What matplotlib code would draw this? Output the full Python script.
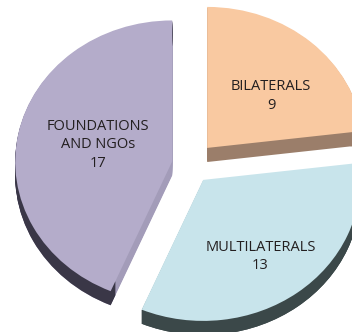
import numpy as np
import matplotlib.pyplot as plt

# number of partners by type
categories = ['BILATERALS', 'MULTILATERALS', 'FOUNDATIONS\nAND NGOs']
counts = [9, 13, 17]

top_colors = ['#f9c9a1', '#c8e4eb', '#b4acca']
side_colors = ['#9b7e6a', '#3b4849', '#a39cb9']   # flat cut faces
rim_colors = ['#9b7e6a', '#3b4849', '#3a3747']    # curved outer faces
explode = [0.16, 0.134, 0.119]
label_r = [0.562, 0.64, 0.493]
label_turn = [-5.0, -2.2, -4.3]   # degrees off the wedge bisector

depth = 0.1     # thickness of the slab, data units
steps = 14

fig = plt.figure(figsize=(3.52, 3.32), dpi=100)
ax = fig.add_axes([0, 0, 1, 1])

pie_kw = dict(explode=explode, startangle=90, counterclock=False)

# side faces: stack shifted copies below the top surface
for k in range(steps, 0, -1):
    ax.pie(counts, colors=side_colors, center=(0, -depth * k / steps),
           wedgeprops=dict(linewidth=0), **pie_kw)
for k in range(steps, 0, -1):
    ax.pie(counts, colors=rim_colors, center=(0, -depth * k / steps),
           wedgeprops=dict(width=0.08, linewidth=0), **pie_kw)

wedges, _ = ax.pie(counts, colors=top_colors, wedgeprops=dict(linewidth=0), **pie_kw)

for w, name, n, r, t in zip(wedges, categories, counts, label_r, label_turn):
    mid = np.deg2rad((w.theta1 + w.theta2) / 2 + t)
    cx, cy = w.center
    ax.annotate('%s\n%d' % (name, n), (cx + r * np.cos(mid), cy + r * np.sin(mid)),
                xytext=(0, -1.8), textcoords='offset points',
                ha='center', va='center', fontsize=10.5, family='Open Sans',
                color='#231f20', linespacing=1.32)

ax.set_aspect('auto')
ax.set_xlim(-1.2134, 1.0287)
ax.set_ylim(-1.1858, 1.1688)
ax.axis('off')

fig.savefig('out.png', dpi=100)
